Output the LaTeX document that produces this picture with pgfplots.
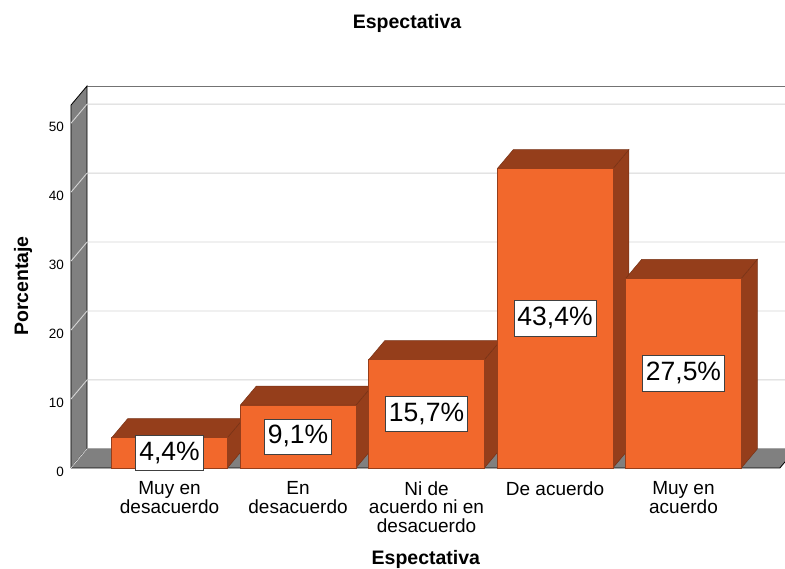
\documentclass[border=0pt]{standalone}
\usepackage{fontspec}
\setmainfont{Liberation Sans}
\usepackage{pgfplots}
\usepackage{pgfplotstable}
\pgfplotsset{compat=1.18}
\pgfkeys{/pgf/number format/assume math mode=true}
\definecolor{barfront}{RGB}{242,104,44}
\definecolor{bardark}{RGB}{149,62,27}
\definecolor{wallgray}{RGB}{128,128,128}
\definecolor{gridgray}{RGB}{212,212,212}
\tikzset{lbl/.style={fill=white, draw=black!75, line width=0.7pt,
  font=\fontsize{26.5}{30}\selectfont, inner xsep=3.5pt, inner ysep=6pt,
  text height=19pt, text depth=4.5pt, anchor=center}}

\pgfplotstableread{
x v
0 4.4
1 9.1
2 15.7
3 43.4
4 27.5
}\datatable

\begin{document}
\begin{tikzpicture}
\useasboundingbox (-71pt,-101pt) rectangle (714pt,468pt);
\begin{axis}[
  at={(0pt,0pt)}, anchor=south west,
  scale only axis, width=714pt, height=382pt,
  xmin=-0.767, xmax=4.79, ymin=0, ymax=55.4,
  clip=false,
  axis line style={draw=none},
  major tick length=0pt, tick style={draw=none},
  ytick={0,10,20,30,40,50},
  xtick={0,1,2,3,4},
  xticklabels={{Muy en\\desacuerdo},{En\\desacuerdo},{Ni de\\acuerdo ni en\\desacuerdo},{De acuerdo},{Muy en\\acuerdo}},
  xticklabel style={align=center, font=\fontsize{19}{18.5}\selectfont, anchor=north, yshift=-10pt},
  yticklabel style={font=\fontsize{13.5}{15}\selectfont, xshift=-3.5pt, yshift=-3.5pt},
  title={Espectativa},
  title style={font=\bfseries\fontsize{19.5}{22}\selectfont, at={(axis description cs:0.4706,1.136)}, anchor=base},
  xlabel={Espectativa},
  xlabel style={font=\bfseries\fontsize{19.5}{22}\selectfont, at={(axis description cs:0.497,-0.2539)}, anchor=base},
  ylabel={Porcentaje},
  ylabel style={font=\bfseries\fontsize{19.5}{22}\selectfont, at={(axis description cs:-0.0602,0.4764)}, anchor=base},
]
% back wall top edge
\addplot[black!55, line width=0.9pt] coordinates {(-0.642,55.4) (4.79,55.4)};
% left wall
\addplot[fill=wallgray, draw=black, line width=0.8pt] coordinates {(-0.767,0) (-0.642,2.77) (-0.642,55.4) (-0.767,52.63) (-0.767,0)};
% floor
\addplot[fill=wallgray, draw=black, line width=0.8pt] coordinates {(-0.767,0) (4.75,0) (4.875,2.77) (-0.642,2.77) (-0.767,0)};
% gridlines (wall diagonal + back wall)
\addplot[gridgray, line width=0.9pt] coordinates {(-0.767,0) (-0.642,2.77) (4.79,2.77)};
\addplot[gridgray, line width=0.9pt] coordinates {(-0.767,10) (-0.642,12.77) (4.79,12.77)};
\addplot[gridgray, line width=0.9pt] coordinates {(-0.767,20) (-0.642,22.77) (4.79,22.77)};
\addplot[gridgray, line width=0.9pt] coordinates {(-0.767,30) (-0.642,32.77) (4.79,32.77)};
\addplot[gridgray, line width=0.9pt] coordinates {(-0.767,40) (-0.642,42.77) (4.79,42.77)};
\addplot[gridgray, line width=0.9pt] coordinates {(-0.767,50) (-0.642,52.77) (4.79,52.77)};
% bars
\pgfplotsinvokeforeach{0,...,4}{
  \pgfplotstablegetelem{#1}{v}\of\datatable
  \pgfmathsetmacro\bv{\pgfplotsretval}
  \pgfmathsetmacro\bt{\bv+2.77}
  \pgfmathsetmacro\bh{\bv/2}
  \pgfmathsetmacro\xl{#1-0.45}
  \pgfmathsetmacro\xr{#1+0.45}
  \pgfmathsetmacro\xlb{#1-0.325}
  \pgfmathsetmacro\xrb{#1+0.575}
  \edef\temp{%
    \noexpand\addplot[fill=bardark, draw=bardark!80!black, line width=0.5pt] coordinates {(\xr,0) (\xr,\bv) (\xrb,\bt) (\xrb,2.77) (\xr,0)};
    \noexpand\addplot[fill=bardark, draw=bardark!80!black, line width=0.5pt] coordinates {(\xl,\bv) (\xlb,\bt) (\xrb,\bt) (\xr,\bv) (\xl,\bv)};
    \noexpand\addplot[ybar, bar width=0.9, fill=barfront, draw=bardark, line width=0.5pt] coordinates {(#1,\bv)};
    \noexpand\node[lbl] at (axis cs:#1,\bh) {\noexpand\pgfmathprintnumber[use comma,fixed,fixed zerofill,precision=1]{\bv}\%};
  }\temp
}
\end{axis}
\end{tikzpicture}
\end{document}
